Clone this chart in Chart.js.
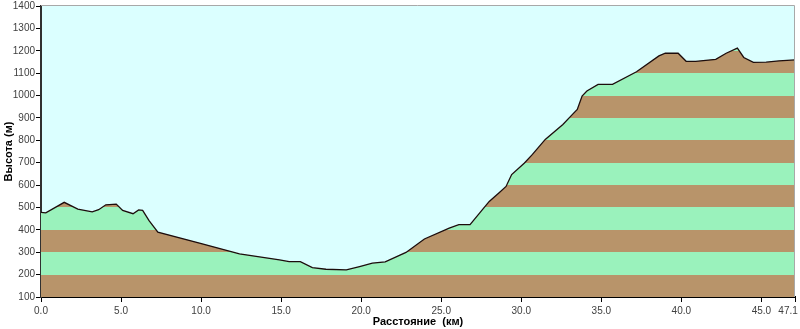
<!DOCTYPE html>
<html>
<head>
<meta charset="utf-8">
<script src="https://cdn.jsdelivr.net/npm/chart.js@4"></script>
<style>
  html, body { margin: 0; padding: 0; background: #ffffff; }
  #wrap { width: 800px; height: 329px; }
</style>
</head>
<body>
<div id="wrap"><canvas id="profile-chart"></canvas></div>
<script>
// distance along the track (km) and elevation (m)
const distKm = [0.0, 0.3, 1.45, 2.3, 3.2, 3.6, 4.05, 4.7, 5.1, 5.75, 6.1, 6.35, 6.75, 7.3, 9.9,
    12.4, 14.9, 15.5, 16.2, 16.95, 17.8, 19.07, 19.9, 20.7, 21.5, 22.8, 23.95, 25.5, 26.1, 26.8,
    28.0, 28.6, 29.05, 29.4, 30.2, 30.7, 31.5, 32.6, 33.2, 33.5, 33.8, 34.1, 34.8, 35.7, 37.2,
    38.6, 39.0, 39.8, 40.3, 40.9, 42.15, 42.8, 43.5, 43.9, 44.5, 45.3, 46.1, 47.1];
const elevM = [478, 476, 523, 493, 480, 490, 512, 515, 487, 472, 489, 487, 441, 390, 341,
    293, 266, 258, 258, 231, 224, 221, 236, 251, 257, 299, 359, 408, 423, 423,
    527, 565, 594, 647, 699, 737, 804, 871, 916, 938, 998, 1020, 1050, 1050, 1106,
    1177, 1189, 1189, 1153, 1153, 1162, 1189, 1212, 1170, 1148, 1149, 1155, 1159];
const xTicks = [0, 5, 10, 15, 20, 25, 30, 35, 40, 45, 47.1];
const yMin = 100;
const yMax = 1400;
const bandStep = 100;

const brown = '#b8946a';
const green = '#9af2bc';

function bandFill(context) {
    const chart = context.chart;
    if (!chart.chartArea) return null;
    const y = chart.scales.y;
    const g = chart.ctx.createLinearGradient(0, y.getPixelForValue(yMin), 0, y.getPixelForValue(yMax));
    const span = yMax - yMin;
    for (let h = yMin, i = 0; h < yMax; h += bandStep, i++) {
        const c = i % 2 === 0 ? brown : green;
        g.addColorStop((h - yMin) / span, c);
        g.addColorStop(Math.min(1, (h + bandStep - yMin) / span), c);
    }
    return g;
}

const plotFrame = {
    id: 'plotFrame',
    beforeDraw(chart) {
        const { ctx, chartArea: a } = chart;
        ctx.save();
        ctx.fillStyle = '#dbffff';
        ctx.fillRect(a.left, a.top, a.right - a.left, a.bottom - a.top);
        ctx.restore();
    },
    afterDraw(chart) {
        const { ctx, chartArea: a } = chart;
        ctx.save();
        ctx.strokeStyle = '#a8a8a8';
        ctx.lineWidth = 1;
        ctx.beginPath();
        ctx.moveTo(a.left, a.top - 0.5);
        ctx.lineTo(a.right - 0.5, a.top - 0.5);
        ctx.lineTo(a.right - 0.5, a.bottom);
        ctx.stroke();
        ctx.restore();
    }
};

const tickFont = { family: "'Liberation Sans', Arial, sans-serif", size: 10 };
const titleFont = { family: "'Liberation Sans', Arial, sans-serif", size: 11, weight: 'bold' };

new Chart(document.getElementById('profile-chart'), {
    type: 'line',
    data: {
        datasets: [{
            data: distKm.map((x, i) => ({ x: x, y: elevM[i] })),
            borderColor: '#1c0c0c',
            borderWidth: 1.3,
            backgroundColor: bandFill,
            fill: 'start',
            pointRadius: 0,
            tension: 0
        }]
    },
    options: {
        responsive: true,
        maintainAspectRatio: false,
        animation: false,
        layout: {
            padding: { top: 6, right: 5, left: 0, bottom: 0 }
        },
        plugins: {
            legend: { display: false },
            tooltip: { enabled: false }
        },
        scales: {
            x: {
                type: 'linear',
                min: 0,
                max: 47.1,
                afterBuildTicks: (scale) => {
                    scale.ticks = xTicks.map(v => ({ value: v }));
                },
                afterFit: (scale) => {
                    scale.height = 32;
                    scale.paddingLeft = 0;
                    scale.paddingRight = 0;
                },
                ticks: {
                    autoSkip: false,
                    maxRotation: 0,
                    padding: 3,
                    color: '#404040',
                    font: tickFont,
                    // last label sits against the right edge, so pad it to shift it left
                    callback: (v, i, ticks) => {
                        const s = Number(v).toFixed(1);
                        return i === ticks.length - 1 ? s + '     ' : s;
                    }
                },
                grid: {
                    drawOnChartArea: false,
                    tickLength: 5,
                    tickColor: '#000000'
                },
                border: { color: '#000000', width: 2 },
                title: {
                    display: true,
                    text: 'Расстояние  (км)',
                    color: '#000000',
                    font: titleFont,
                    padding: { top: 0, bottom: 0 }
                }
            },
            y: {
                min: yMin,
                max: yMax,
                afterFit: (scale) => {
                    scale.width = 41;
                    scale.paddingTop = 0;
                    scale.paddingBottom = 0;
                },
                ticks: {
                    stepSize: 100,
                    padding: 1,
                    color: '#404040',
                    font: tickFont,
                    callback: v => String(v)
                },
                grid: {
                    drawOnChartArea: false,
                    tickLength: 5,
                    tickColor: '#000000'
                },
                border: { color: '#303030', width: 2 },
                title: {
                    display: true,
                    text: 'Высота (м)',
                    color: '#000000',
                    font: titleFont,
                    padding: { top: 2, bottom: 0 }
                }
            }
        }
    },
    plugins: [plotFrame]
});
</script>
</body>
</html>
